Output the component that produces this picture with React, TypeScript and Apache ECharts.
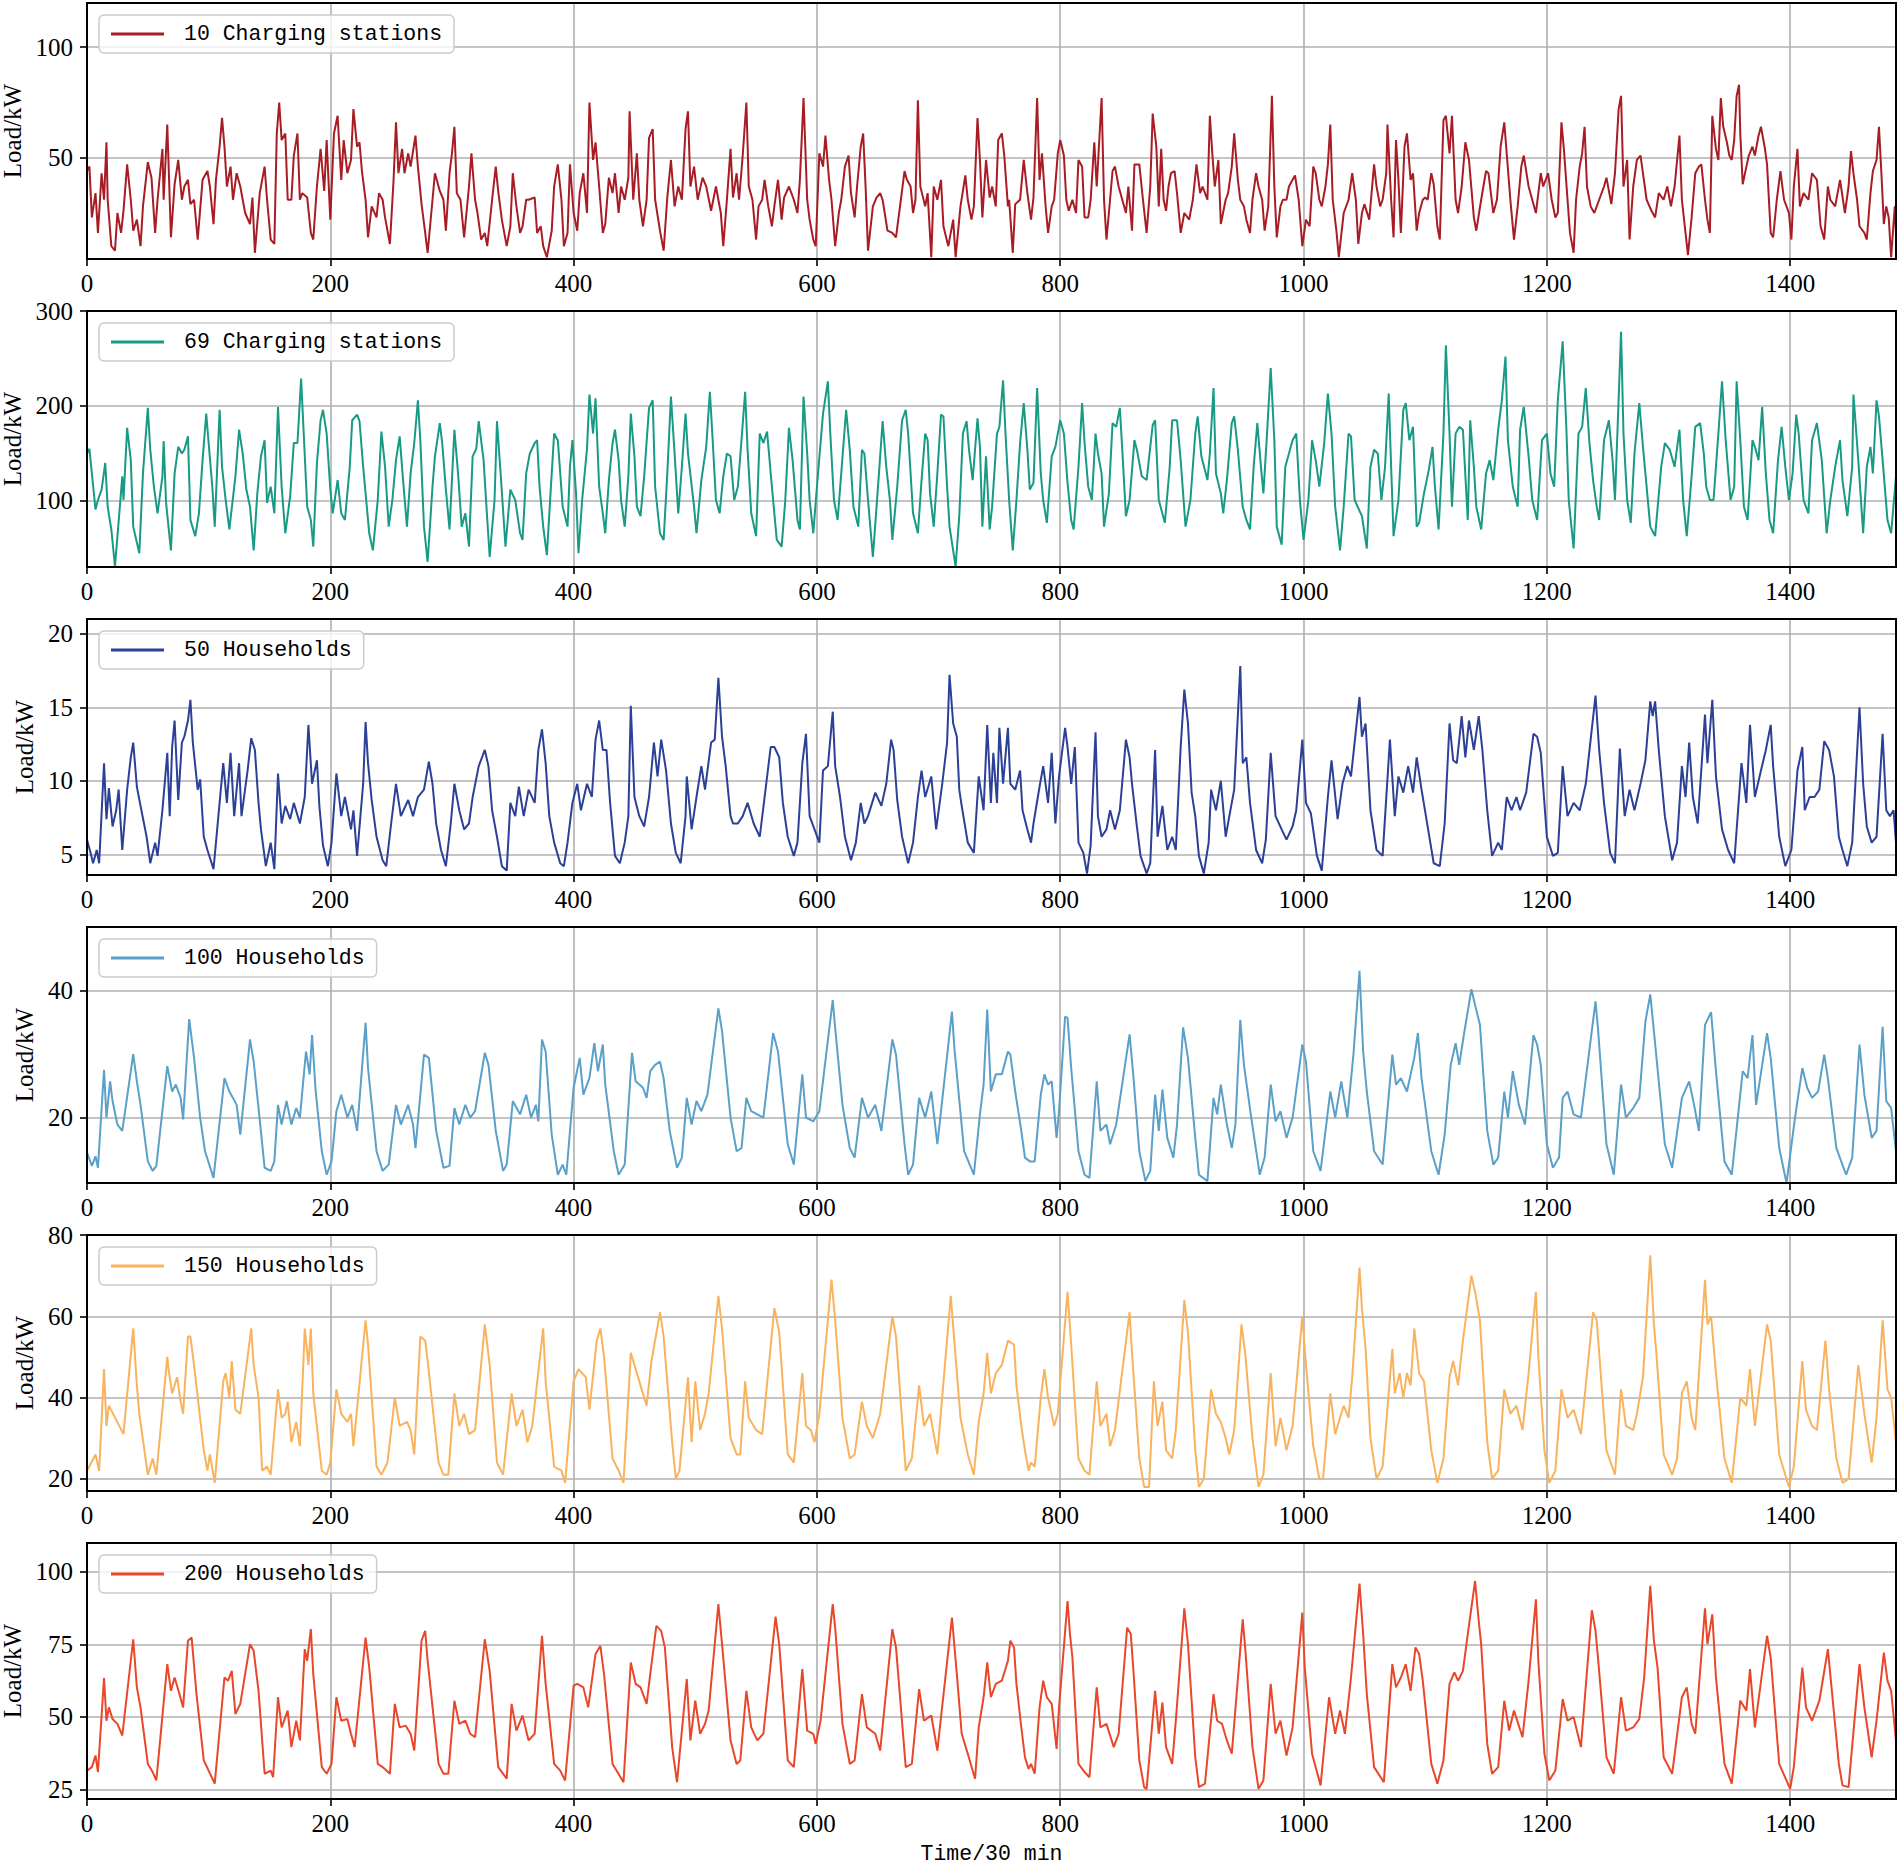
import { useEffect, useRef } from "react";
import * as echarts from "echarts";

const xTicks = [0, 200, 400, 600, 800, 1000, 1200, 1400];
const xMax = 1487;
const seriesNames = ["10 Charging stations", "69 Charging stations", "50 Households", "100 Households", "150 Households", "200 Households"];
const seriesColors = ["#a81c25", "#199a85", "#2b4096", "#5aa0c8", "#f9b35f", "#e8472a"];
const yMins = [4.2, 30.5, 3.6, 9.7, 17, 21.7];
const yMaxs = [120, 300, 21, 50, 80, 110];
const yTicks = [[50, 100], [100, 200, 300], [5, 10, 15, 20], [20, 40], [20, 40, 60, 80], [25, 50, 75, 100]];
const yLabel = "Load/kW";
const xLabel = "Time/30 min";

const cs10: number[][] = [[0,44],[2,46],[4,23],[7,34],[9,16],[12,43],[14,31],[16,57],[17,31],[20,10],[23,8],[25,25],[28,16],[30,26],[33,47],[36,31],[38,17],[41,22],[44,10],[46,28],[50,48],[53,41],[56,16],[58,31],[62,54],[63,31],[66,65],[69,14],[72,38],[75,49],[78,31],[80,37],[83,40],[85,29],[88,31],[91,13],[95,40],[99,44],[101,37],[104,20],[106,40],[109,55],[111,68],[113,55],[115,37],[118,46],[120,31],[123,43],[126,37],[130,25],[134,20],[136,32],[138,7],[142,34],[146,46],[148,31],[151,13],[154,11],[156,61],[158,75],[160,58],[163,61],[165,31],[168,31],[170,51],[173,61],[175,31],[177,34],[181,32],[184,16],[186,13],[189,37],[192,54],[195,35],[197,58],[200,22],[203,61],[206,69],[209,40],[211,58],[214,43],[217,49],[219,72],[222,55],[224,57],[226,44],[229,31],[231,14],[234,28],[238,23],[240,34],[243,31],[245,23],[249,11],[252,40],[254,66],[256,43],[259,54],[261,43],[264,52],[266,46],[270,60],[272,46],[275,29],[278,16],[280,7],[284,31],[286,43],[290,35],[293,31],[295,17],[298,43],[300,52],[302,64],[304,34],[307,31],[310,14],[314,37],[316,52],[319,31],[321,25],[324,13],[327,16],[329,10],[333,31],[336,46],[338,35],[341,22],[345,10],[348,19],[350,43],[353,28],[356,16],[358,19],[361,31],[363,31],[368,32],[370,16],[373,19],[375,10],[378,5],[382,17],[384,37],[387,47],[390,31],[392,10],[395,16],[397,47],[400,25],[403,17],[405,34],[408,43],[411,25],[413,75],[416,49],[418,57],[421,37],[424,16],[426,20],[429,41],[432,34],[434,43],[437,25],[439,37],[442,31],[445,41],[446,71],[449,31],[452,52],[454,31],[457,19],[460,31],[462,59],[465,63],[467,31],[471,17],[474,8],[477,32],[480,49],[483,28],[486,37],[489,31],[492,63],[494,71],[496,37],[499,46],[502,31],[506,41],[509,37],[513,26],[517,37],[521,25],[523,10],[526,31],[529,54],[531,32],[534,43],[536,31],[539,51],[542,75],[544,37],[547,31],[550,13],[552,28],[555,31],[557,40],[560,28],[563,19],[565,28],[568,40],[571,22],[573,32],[577,37],[581,31],[584,25],[586,40],[589,77],[592,31],[594,22],[597,13],[599,10],[602,52],[605,46],[607,60],[610,40],[612,31],[615,10],[618,25],[620,31],[623,46],[626,51],[628,34],[631,23],[633,37],[636,55],[638,61],[640,37],[642,8],[646,28],[649,32],[652,34],[654,31],[658,17],[662,16],[665,14],[669,31],[672,44],[674,40],[677,37],[679,25],[681,31],[683,76],[685,37],[689,28],[691,34],[694,5],[696,37],[699,31],[702,40],[704,19],[708,10],[712,22],[714,5],[718,28],[722,42],[724,31],[727,22],[729,28],[732,68],[734,49],[736,23],[739,49],[742,32],[744,37],[747,28],[749,58],[752,61],[754,51],[757,28],[758,31],[761,7],[763,29],[767,31],[770,49],[773,34],[776,22],[778,32],[781,77],[783,40],[785,52],[788,28],[790,16],[793,28],[795,31],[798,52],[800,58],[803,51],[805,31],[807,26],[810,31],[813,25],[815,49],[818,46],[820,23],[823,23],[825,31],[828,57],[830,37],[834,77],[836,31],[838,13],[840,25],[843,44],[845,46],[848,37],[851,31],[854,25],[856,37],[859,17],[861,47],[865,47],[868,31],[871,16],[874,37],[876,70],[879,55],[881,28],[883,54],[885,31],[887,26],[889,37],[891,43],[894,44],[896,34],[899,16],[902,25],[906,22],[909,31],[912,47],[915,34],[917,37],[921,31],[923,69],[925,52],[927,37],[930,49],[932,20],[936,31],[938,34],[941,46],[943,61],[946,40],[948,31],[951,28],[953,22],[956,16],[958,31],[961,43],[963,37],[966,31],[968,17],[971,28],[974,78],[976,37],[978,14],[981,28],[983,31],[986,31],[988,37],[991,40],[993,42],[996,31],[999,10],[1002,22],[1005,19],[1008,46],[1010,43],[1013,31],[1015,28],[1018,37],[1020,47],[1022,65],[1024,31],[1027,17],[1029,5],[1033,25],[1037,31],[1040,43],[1043,31],[1045,11],[1048,25],[1050,29],[1054,22],[1058,47],[1060,37],[1063,28],[1065,31],[1068,43],[1069,65],[1072,31],[1074,14],[1076,58],[1078,40],[1080,16],[1083,55],[1085,61],[1088,40],[1090,43],[1093,17],[1095,25],[1098,31],[1100,32],[1102,31],[1105,43],[1107,38],[1110,19],[1112,13],[1115,67],[1117,69],[1120,52],[1122,69],[1125,31],[1127,25],[1130,37],[1133,57],[1136,49],[1140,23],[1142,17],[1146,31],[1150,44],[1152,43],[1156,25],[1159,31],[1162,55],[1165,66],[1167,52],[1170,31],[1173,13],[1176,28],[1179,46],[1181,51],[1185,37],[1188,31],[1191,25],[1195,43],[1197,37],[1201,43],[1204,31],[1207,23],[1209,25],[1212,66],[1214,54],[1217,31],[1219,16],[1222,7],[1224,31],[1227,46],[1229,52],[1231,64],[1233,37],[1236,28],[1239,25],[1243,31],[1247,37],[1249,41],[1253,29],[1256,43],[1259,72],[1261,78],[1263,37],[1266,49],[1268,13],[1271,37],[1274,49],[1277,51],[1279,43],[1282,31],[1286,26],[1289,23],[1292,34],[1296,31],[1299,37],[1302,28],[1305,37],[1309,60],[1311,31],[1314,16],[1316,6],[1319,23],[1322,43],[1325,46],[1327,47],[1330,31],[1332,22],[1334,16],[1336,69],[1339,54],[1341,49],[1343,77],[1345,64],[1348,57],[1350,51],[1352,49],[1354,58],[1356,78],[1358,83],[1359,61],[1361,38],[1364,46],[1366,51],[1369,55],[1371,51],[1374,60],[1376,64],[1379,55],[1381,47],[1384,16],[1386,14],[1389,31],[1392,44],[1395,31],[1399,25],[1401,13],[1403,37],[1406,54],[1408,28],[1411,34],[1415,31],[1418,43],[1422,40],[1425,19],[1428,13],[1431,37],[1433,31],[1437,28],[1441,40],[1445,25],[1448,37],[1450,53],[1452,43],[1455,31],[1457,19],[1461,16],[1463,13],[1466,34],[1468,44],[1471,49],[1473,64],[1475,43],[1477,20],[1479,28],[1481,23],[1483,5],[1486,28],[1487,16]];

const cs69: number[][] = [[0,150],[2,155],[4,129],[7,91],[9,101],[12,112],[15,140],[17,94],[20,70],[23,31],[27,94],[29,126],[30,101],[33,177],[36,143],[38,73],[43,45],[46,129],[50,198],[52,154],[55,115],[58,87],[62,126],[63,163],[65,98],[69,48],[72,129],[75,157],[78,150],[80,154],[83,168],[85,80],[89,63],[92,87],[95,143],[98,192],[100,161],[103,115],[105,73],[109,196],[111,136],[114,101],[117,70],[122,126],[125,175],[128,150],[131,112],[134,94],[137,48],[140,108],[143,147],[146,164],[148,98],[151,115],[154,87],[157,199],[160,115],[163,66],[167,105],[170,161],[173,161],[176,229],[178,175],[181,94],[184,80],[186,52],[189,140],[192,185],[194,196],[197,171],[200,112],[202,87],[206,122],[209,87],[212,80],[216,136],[218,185],[222,191],[224,184],[227,136],[230,94],[232,66],[235,48],[239,101],[242,173],[245,136],[248,73],[251,101],[254,143],[257,168],[260,119],[263,73],[266,129],[269,161],[272,206],[274,164],[277,73],[280,36],[284,115],[286,147],[290,182],[292,161],[295,112],[298,70],[302,175],[305,129],[308,73],[311,87],[314,52],[317,147],[320,155],[322,184],[326,143],[328,101],[331,41],[335,101],[337,184],[340,129],[344,52],[348,112],[352,101],[356,66],[358,59],[361,129],[364,150],[368,161],[370,164],[372,115],[375,73],[378,43],[382,129],[384,171],[387,164],[391,94],[395,73],[397,136],[399,164],[402,108],[404,45],[407,101],[411,155],[413,212],[416,171],[418,208],[421,115],[424,87],[426,66],[429,122],[432,161],[434,175],[437,143],[439,101],[442,73],[445,126],[447,192],[450,147],[452,94],[455,84],[458,126],[462,198],[465,206],[467,115],[471,66],[474,59],[477,129],[480,210],[483,150],[486,87],[489,136],[492,192],[494,150],[499,94],[501,66],[505,122],[509,157],[512,215],[514,171],[517,101],[520,87],[523,126],[526,150],[529,147],[532,101],[535,115],[538,164],[541,215],[543,154],[546,87],[550,63],[553,171],[556,161],[559,173],[563,115],[567,59],[571,52],[574,101],[577,177],[580,143],[584,80],[586,70],[589,210],[592,150],[594,101],[597,66],[600,115],[605,192],[609,226],[611,171],[614,101],[617,80],[620,129],[624,196],[627,154],[630,94],[634,73],[637,154],[639,150],[642,101],[646,41],[651,129],[654,184],[657,136],[660,101],[662,59],[666,115],[670,185],[673,196],[675,171],[679,87],[683,66],[686,122],[689,171],[691,164],[693,108],[696,73],[699,129],[702,191],[704,189],[707,115],[709,73],[714,31],[717,84],[720,171],[723,184],[725,154],[728,122],[732,187],[734,157],[736,73],[739,147],[742,70],[744,94],[748,171],[750,178],[753,227],[755,171],[758,101],[761,48],[764,101],[767,161],[770,203],[773,154],[775,112],[778,119],[781,219],[784,129],[786,101],[789,77],[793,147],[796,157],[800,185],[803,171],[806,119],[809,80],[811,70],[815,136],[818,203],[820,161],[823,115],[826,101],[829,171],[831,150],[834,129],[836,73],[840,108],[843,182],[846,178],[849,198],[851,154],[854,84],[857,101],[861,164],[863,154],[867,126],[871,122],[876,180],[878,185],[881,101],[886,77],[890,136],[892,185],[896,185],[899,143],[903,73],[907,101],[911,171],[913,189],[916,147],[921,122],[923,150],[926,219],[928,129],[932,108],[934,87],[937,122],[941,182],[943,189],[946,154],[950,94],[953,80],[956,70],[959,136],[962,182],[965,136],[967,108],[970,171],[973,240],[976,164],[978,73],[982,54],[985,136],[988,150],[991,164],[994,171],[997,101],[1000,59],[1004,101],[1007,164],[1010,143],[1013,115],[1017,161],[1020,213],[1023,171],[1026,94],[1030,48],[1033,94],[1037,171],[1039,168],[1042,101],[1048,84],[1052,50],[1055,136],[1058,154],[1061,150],[1064,101],[1067,136],[1070,213],[1072,136],[1074,63],[1078,101],[1082,196],[1084,203],[1087,164],[1090,178],[1093,73],[1095,77],[1099,108],[1103,133],[1106,157],[1108,115],[1111,70],[1115,171],[1117,264],[1120,171],[1122,94],[1125,171],[1128,178],[1131,175],[1135,80],[1137,185],[1140,136],[1142,94],[1146,70],[1150,129],[1153,143],[1156,122],[1160,175],[1163,206],[1166,252],[1168,164],[1172,115],[1176,94],[1178,175],[1181,199],[1185,147],[1188,101],[1192,80],[1196,164],[1200,171],[1203,129],[1206,115],[1209,206],[1213,268],[1216,178],[1218,101],[1222,50],[1226,171],[1229,178],[1232,219],[1235,161],[1238,122],[1241,94],[1243,80],[1247,164],[1251,185],[1254,143],[1256,101],[1261,278],[1263,171],[1266,101],[1269,77],[1272,150],[1276,203],[1279,157],[1281,129],[1285,73],[1289,63],[1294,136],[1297,161],[1301,154],[1305,136],[1309,175],[1312,101],[1315,63],[1319,126],[1322,178],[1326,182],[1329,150],[1331,115],[1334,101],[1337,101],[1341,171],[1344,226],[1347,164],[1351,101],[1354,115],[1356,226],[1359,164],[1362,94],[1365,80],[1369,164],[1371,157],[1374,143],[1377,199],[1380,129],[1383,80],[1386,66],[1390,143],[1393,178],[1396,136],[1399,101],[1402,129],[1405,191],[1407,171],[1411,101],[1415,87],[1418,164],[1422,182],[1426,143],[1430,66],[1433,101],[1437,136],[1441,164],[1443,122],[1447,84],[1451,136],[1452,212],[1454,178],[1456,143],[1460,66],[1463,136],[1466,157],[1468,129],[1471,206],[1473,189],[1476,143],[1480,80],[1483,66],[1487,126]];

const hh50: number[][] = [[0,6],[3,5.1],[5,4.4],[8,5.3],[10,4.4],[14,11.2],[16,7.4],[18,9.5],[21,6.9],[24,8],[26,9.4],[29,5.3],[33,9.4],[36,11.6],[38,12.6],[41,9.6],[44,8.3],[49,6.2],[52,4.4],[56,5.8],[58,4.9],[62,8],[66,11.9],[68,7.6],[70,12.3],[72,14.1],[75,8.7],[78,12.6],[80,13],[83,14.1],[85,15.5],[87,12.6],[91,9.4],[93,10.1],[96,6.2],[99,5.3],[104,4],[108,7.6],[112,11.2],[115,8.5],[118,11.9],[121,7.6],[125,11.2],[127,7.6],[132,10.7],[135,12.9],[138,12.1],[141,8.5],[143,6.7],[147,4.2],[151,5.8],[154,4],[157,10.5],[160,7.1],[163,8.3],[167,7.4],[170,8.5],[175,7.1],[179,8.9],[182,13.8],[185,9.8],[189,11.4],[191,8.3],[194,5.6],[198,4.2],[201,5.8],[205,10.5],[209,7.6],[212,8.9],[217,6.7],[219,8],[222,4.9],[227,9.8],[229,14],[231,11.2],[234,8.7],[238,6.2],[243,4.6],[246,4.2],[250,7.1],[254,9.8],[258,7.6],[264,8.7],[268,7.6],[272,8.9],[277,9.4],[281,11.3],[284,9.8],[287,7.1],[291,5.3],[295,4.2],[299,7.1],[302,9.8],[306,8],[310,6.7],[314,7.1],[317,8.9],[322,11],[327,12.1],[330,11],[333,8],[337,6.2],[341,4.2],[345,3.9],[348,8.5],[352,7.6],[355,9.6],[359,7.6],[363,9.4],[368,8.5],[371,12.1],[374,13.5],[377,11.2],[380,7.6],[384,5.8],[389,4.4],[392,4.2],[395,5.8],[399,8.5],[403,9.8],[406,8],[411,9.8],[415,8.9],[418,12.8],[421,14.1],[424,12.1],[427,12.1],[430,8.5],[434,4.9],[438,4.4],[442,5.8],[445,7.6],[447,15.1],[450,8.9],[454,7.6],[458,6.9],[462,8.9],[466,12.6],[469,10.3],[472,12.8],[476,10.7],[480,7.1],[484,5.1],[488,4.4],[492,7.6],[493,10.3],[497,6.7],[501,8.9],[505,11],[508,9.4],[513,12.6],[516,12.8],[519,17],[522,13],[525,11],[529,7.6],[531,7.1],[535,7.1],[539,7.6],[543,8.5],[548,7.1],[553,6.2],[557,8.9],[562,12.3],[565,12.3],[569,11.6],[572,8.5],[576,6.2],[581,4.9],[584,5.8],[588,11.2],[591,13.2],[594,7.6],[598,6.7],[602,5.8],[605,10.7],[609,11],[613,14.7],[615,11],[619,8.9],[623,6.2],[628,4.6],[632,5.8],[636,8.5],[639,7.1],[642,7.6],[648,9.2],[653,8.3],[657,9.8],[661,12.8],[663,12.1],[666,8.7],[670,6.2],[675,4.4],[679,5.8],[683,8.9],[686,10.7],[689,8.9],[694,10.3],[698,6.7],[703,9.8],[707,12.6],[709,17.2],[712,13.9],[715,13],[717,9.4],[719,8.3],[724,5.8],[729,5.1],[733,10.3],[737,8],[740,13.8],[743,8.5],[745,11.9],[748,8.5],[750,13.6],[753,9.8],[757,13.6],[759,9.8],[763,9.4],[767,10.7],[769,8],[773,6.7],[776,5.8],[778,7.1],[783,9.6],[786,11],[790,8.5],[793,11.9],[796,7.1],[799,10.3],[804,13.6],[806,12.3],[809,9.8],[812,12.3],[815,5.8],[819,5.1],[822,3.7],[825,5.6],[829,13.3],[831,7.6],[834,6.2],[838,6.7],[841,8],[845,6.7],[849,8],[854,12.8],[857,11.6],[859,9.8],[863,6.9],[866,4.9],[871,3.7],[874,4.4],[878,12.1],[880,6.2],[884,8.3],[888,5.3],[892,6.2],[895,5.3],[899,12.3],[902,16.2],[905,13.9],[908,9.2],[911,7.6],[914,4.9],[918,3.7],[922,5.8],[924,9.4],[928,8],[932,10],[936,6.2],[939,7.6],[943,9.4],[948,17.8],[950,11.2],[953,11.6],[956,8.5],[961,5.3],[966,4.4],[969,6],[973,11.9],[977,7.6],[982,6.7],[986,6],[991,6.9],[994,8],[999,12.8],[1002,8.5],[1006,7.8],[1011,4.9],[1015,3.9],[1020,8.9],[1023,11.4],[1028,7.4],[1032,9.8],[1036,11],[1039,10.3],[1046,15.7],[1048,13],[1051,13.9],[1055,8],[1060,5.3],[1065,4.9],[1071,12.8],[1075,7.6],[1078,10.3],[1082,9.2],[1086,11],[1090,9.2],[1093,11.6],[1097,9.4],[1102,6.9],[1107,4.4],[1112,4.2],[1116,7.1],[1120,13.9],[1123,11.4],[1126,11.2],[1130,14.4],[1133,11.6],[1136,14.1],[1140,12.1],[1144,14.4],[1147,12.1],[1151,8],[1155,4.9],[1160,5.8],[1163,5.3],[1167,8.9],[1171,8],[1175,8.9],[1178,8],[1183,9.2],[1189,13.2],[1192,13],[1195,11.9],[1200,6.2],[1205,4.9],[1209,5.1],[1213,11],[1217,7.6],[1222,8.5],[1227,8],[1232,9.8],[1240,15.8],[1243,12.1],[1247,8.5],[1252,5.1],[1256,4.4],[1260,12.2],[1264,7.6],[1268,9.4],[1272,8],[1277,9.8],[1281,11.4],[1285,15.4],[1287,14.4],[1289,15.4],[1292,12.1],[1297,7.6],[1303,4.6],[1307,5.8],[1311,11],[1314,8.9],[1317,12.6],[1320,8.9],[1324,7.1],[1330,14.5],[1332,11.2],[1336,15.5],[1339,10.3],[1344,6.7],[1349,5.3],[1354,4.4],[1360,11.2],[1364,8.5],[1367,13.8],[1371,8.9],[1376,10.7],[1380,12.1],[1384,13.8],[1386,11],[1391,6.2],[1396,4.2],[1401,5.3],[1406,10.7],[1410,12.3],[1412,8],[1416,8.9],[1420,8.9],[1424,9.4],[1428,12.7],[1432,12.1],[1436,10.3],[1440,6.2],[1443,5.3],[1447,4.2],[1451,5.8],[1457,15],[1460,9.8],[1463,6.9],[1467,5.8],[1471,6.2],[1476,13.2],[1479,8],[1482,7.6],[1485,8],[1487,5.8]];

const hh100: number[][] = [[0,14.5],[4,12.4],[7,13.9],[9,12.1],[14,27.5],[16,20],[19,25.7],[21,22.6],[25,18.9],[29,17.9],[38,30],[41,25.7],[44,22],[50,13.1],[54,11.6],[57,12.4],[66,28.1],[70,24.1],[73,25.2],[77,23.1],[79,19.7],[84,35.5],[88,29.4],[93,20],[97,14.7],[104,10.5],[113,26.2],[117,24.1],[120,23.1],[123,22],[126,17.3],[134,32.3],[137,28.8],[141,21.5],[146,12.1],[151,11.6],[154,13.1],[157,22],[160,18.9],[164,22.6],[168,18.9],[172,21.5],[175,20],[180,30.4],[183,26.8],[185,33],[188,24.1],[193,14.7],[197,11],[201,13.1],[205,21],[209,23.6],[214,20],[218,22],[222,17.9],[229,34.9],[231,27.8],[238,14.7],[243,11.6],[248,12.6],[254,22],[258,18.9],[264,22],[268,18.9],[270,15.2],[277,29.9],[281,29.4],[287,17.9],[293,12.1],[298,12.4],[302,21.5],[306,18.9],[311,22],[315,20],[319,21],[327,30.2],[330,28.3],[336,17.9],[342,11.6],[345,12.6],[350,22.6],[356,20.5],[361,23.6],[365,20],[369,22],[371,19.4],[374,32.3],[377,30.4],[382,17.3],[387,11],[391,12.6],[394,11],[400,24.7],[405,29.4],[408,23.6],[413,26.2],[417,31.7],[420,27.3],[424,31.5],[426,25.2],[433,14.7],[437,11],[442,12.6],[448,30.2],[451,25.7],[457,24.7],[460,23.1],[463,27.3],[467,28.3],[471,28.8],[474,26.2],[479,17.9],[485,12.1],[489,13.7],[493,23.1],[497,18.9],[501,22.6],[505,21],[510,23.6],[519,37.2],[522,33.6],[529,20],[534,14.7],[538,15.2],[542,23.1],[546,21],[551,20.5],[556,20],[564,33.3],[568,30.4],[576,15.8],[581,12.6],[588,26.8],[591,20],[597,19.4],[602,21],[613,38.5],[615,34.1],[621,22],[627,15.2],[631,13.7],[637,23.1],[642,20],[648,22],[653,17.9],[662,32.3],[665,29.9],[672,15.8],[675,11],[679,12.6],[684,23.1],[689,20],[694,24.1],[699,15.8],[711,36.7],[713,30.9],[721,14.7],[729,11],[734,20.5],[737,25.2],[740,37],[743,24.1],[747,26.8],[752,26.8],[757,30.4],[759,29.9],[763,24.1],[768,17.9],[771,13.7],[775,13.1],[779,13.1],[784,23.6],[787,26.8],[790,25.2],[793,25.7],[797,16.8],[799,21],[804,35.9],[806,35.7],[809,27.8],[815,14.7],[820,11],[824,10.5],[830,25.7],[833,17.9],[838,18.9],[841,15.8],[846,18.9],[857,33.1],[860,26.8],[865,14.7],[870,10],[874,11.6],[878,23.6],[881,17.9],[884,24.4],[888,16.8],[893,13.7],[896,18.9],[901,34.2],[905,29.4],[911,16.8],[914,11],[921,10],[926,23.1],[929,20.5],[932,25.2],[937,18.9],[941,15.2],[944,18.9],[948,35.4],[951,28.3],[957,20],[964,11],[968,13.7],[973,25.2],[977,19.4],[981,21],[986,16.8],[991,20],[999,31.5],[1002,28.8],[1008,14.7],[1014,11.6],[1022,24.1],[1026,20],[1031,25.7],[1036,20],[1041,29.9],[1046,43.1],[1049,30.4],[1052,24.1],[1058,14.7],[1065,12.6],[1073,29.9],[1076,25.2],[1080,26.2],[1085,24.1],[1091,29.4],[1094,33.3],[1097,26.2],[1105,14.7],[1111,11],[1116,17.3],[1121,28.3],[1125,31.7],[1128,28.3],[1132,33.3],[1138,40.2],[1141,37.7],[1145,34.6],[1151,17.9],[1156,12.6],[1160,13.7],[1165,24.1],[1168,20],[1172,27.3],[1177,22],[1182,18.9],[1189,33],[1192,31.5],[1195,28.3],[1200,15.8],[1205,12.1],[1210,13.7],[1213,23.1],[1217,24.1],[1222,20.5],[1228,20],[1240,38.3],[1242,34.1],[1249,15.8],[1255,11],[1261,25.2],[1265,20],[1271,21.5],[1276,23.1],[1281,35.1],[1285,39.4],[1288,33.6],[1297,15.8],[1303,12.1],[1311,23.1],[1317,25.7],[1321,22],[1325,17.9],[1330,34.6],[1335,36.6],[1339,27.3],[1346,13.1],[1352,11],[1361,27.3],[1365,26.2],[1369,33],[1372,22],[1381,33.3],[1384,29.4],[1391,15.2],[1397,9.7],[1404,20],[1410,27.8],[1414,24.7],[1418,23.1],[1423,24.1],[1428,29.9],[1431,26.2],[1438,15.2],[1446,11],[1451,13.7],[1457,31.5],[1461,23.6],[1467,16.8],[1471,17.9],[1476,34.3],[1479,22.6],[1483,21.5],[1487,14.7]];

const hh150: number[][] = [[0,22],[7,26],[10,22],[14,47],[16,33],[18,38],[30,31],[38,57],[41,43],[43,36],[50,21],[54,25],[57,21],[66,50],[67,47],[70,41],[74,45],[77,39],[79,36],[83,55],[85,55],[88,48],[96,27],[99,22],[101,26],[105,19],[112,44],[114,46],[117,40],[119,49],[122,37],[126,36],[135,57],[137,48],[141,40],[144,22],[148,23],[151,21],[157,42],[160,35],[163,36],[165,39],[168,29],[172,34],[175,28],[179,57],[182,48],[184,57],[186,41],[193,22],[197,21],[200,24],[205,42],[209,36],[214,34],[217,36],[219,28],[229,59],[231,53],[238,23],[242,21],[247,24],[253,40],[257,33],[263,34],[266,32],[269,26],[274,55],[278,54],[280,49],[289,24],[293,21],[297,21],[302,41],[306,33],[310,36],[314,31],[319,32],[327,58],[331,48],[337,24],[342,21],[349,41],[353,33],[358,37],[362,29],[366,33],[375,57],[377,44],[384,23],[390,22],[393,19],[400,44],[404,47],[410,45],[413,37],[419,54],[422,57],[425,50],[432,25],[437,22],[441,19],[447,51],[450,48],[455,43],[460,38],[464,49],[471,61],[474,55],[481,29],[484,20],[487,22],[494,45],[497,29],[500,44],[504,32],[508,36],[511,41],[519,65],[522,57],[529,30],[534,26],[537,26],[541,44],[544,35],[550,32],[555,31],[565,62],[569,56],[576,26],[581,24],[588,46],[591,33],[595,32],[598,29],[602,36],[612,69],[615,59],[621,35],[627,25],[631,26],[637,39],[641,33],[646,30],[652,36],[662,60],[665,55],[673,22],[678,25],[684,43],[688,33],[693,36],[699,26],[710,65],[714,50],[718,35],[724,26],[729,21],[733,34],[737,41],[740,51],[743,41],[747,46],[752,48],[757,54],[762,53],[764,43],[768,33],[771,27],[774,22],[776,24],[779,23],[784,40],[787,47],[790,40],[795,33],[798,36],[806,66],[809,53],[815,25],[820,22],[824,21],[830,44],[833,33],[838,36],[841,28],[845,32],[857,61],[859,51],[865,25],[869,18],[873,18],[877,44],[880,33],[884,39],[887,27],[892,25],[895,32],[902,64],[905,56],[911,27],[914,18],[918,20],[924,42],[928,36],[932,34],[936,30],[939,26],[943,32],[949,58],[952,51],[958,30],[963,18],[967,21],[973,46],[977,28],[981,35],[986,27],[991,33],[999,60],[1002,48],[1008,28],[1013,20],[1016,20],[1022,41],[1026,31],[1033,38],[1037,35],[1040,45],[1046,72],[1048,62],[1051,52],[1055,30],[1060,20],[1065,23],[1073,52],[1075,41],[1079,46],[1082,40],[1085,46],[1088,43],[1091,57],[1095,46],[1099,44],[1105,27],[1110,19],[1115,25],[1120,45],[1123,49],[1127,43],[1131,54],[1138,70],[1141,66],[1145,59],[1151,29],[1155,20],[1160,22],[1165,42],[1170,36],[1175,38],[1180,32],[1185,46],[1191,66],[1193,50],[1198,27],[1202,19],[1207,22],[1212,42],[1217,35],[1222,37],[1228,31],[1238,61],[1241,59],[1243,51],[1249,27],[1256,21],[1261,42],[1265,33],[1271,32],[1274,36],[1279,45],[1285,75],[1288,58],[1290,51],[1296,26],[1303,21],[1307,25],[1311,41],[1315,44],[1319,35],[1322,32],[1330,69],[1332,58],[1335,60],[1339,46],[1346,25],[1352,19],[1359,40],[1364,38],[1367,47],[1371,33],[1381,58],[1384,54],[1391,26],[1399,18],[1403,23],[1410,49],[1413,37],[1418,33],[1422,32],[1429,54],[1432,42],[1438,25],[1443,19],[1448,20],[1456,48],[1461,36],[1467,24],[1471,35],[1476,59],[1480,42],[1483,40],[1487,29]];

const hh200: number[][] = [[0,31.5],[4,32.7],[7,36.7],[9,31],[14,63.4],[16,48.7],[18,53.3],[21,49.3],[25,47.6],[29,43.6],[38,76.8],[41,60.2],[44,53.3],[50,33.8],[54,31],[57,28.1],[66,68.2],[69,59],[72,63.6],[76,57.9],[79,53.3],[83,76.3],[86,77.4],[90,57.9],[96,35],[100,31.5],[105,27],[113,63.6],[116,62.5],[119,65.9],[122,51],[126,54.5],[134,75.1],[137,72.8],[141,59],[146,30.4],[151,31.5],[153,29.2],[157,56.8],[160,46.4],[165,52.2],[168,39.6],[172,48.7],[175,41.9],[179,73.4],[181,69.4],[184,80.3],[186,64.8],[193,32.7],[197,30.4],[201,33.8],[205,56.8],[209,48.7],[214,49.3],[217,44.2],[220,39.6],[229,77.4],[232,67],[239,33.8],[243,32.7],[249,30.4],[253,54.5],[257,46.4],[262,47],[266,44.2],[269,38.4],[275,76.3],[278,79.7],[280,69.4],[289,33.8],[293,30.4],[297,30.4],[302,55.6],[306,47.6],[311,48.7],[315,44.2],[319,43],[327,76.8],[331,65.9],[338,32.7],[345,28.7],[349,54.5],[353,45.3],[358,50.5],[363,41.9],[368,44.2],[374,78],[377,61.4],[384,33.8],[389,31.5],[393,28.1],[400,60.8],[403,61.4],[408,60.2],[412,53.3],[418,71.7],[422,74.5],[425,64.8],[432,33.8],[436,31],[441,27.5],[447,68.8],[451,61.4],[455,60.2],[460,54.5],[463,64.8],[468,81.4],[472,79.7],[475,74],[481,39.6],[485,27.5],[493,63.1],[496,41.9],[500,55.6],[504,44.2],[508,47.6],[511,52.2],[519,88.9],[522,75.1],[529,41.9],[534,33.8],[537,35],[542,59],[546,46.4],[551,41.9],[556,44.2],[566,84.6],[569,75.1],[576,35],[581,32.7],[588,66.5],[592,45.3],[597,44.2],[599,40.7],[603,48.7],[613,88.9],[615,80.8],[621,47.6],[627,33.8],[631,35],[637,57.9],[641,46.4],[648,44.2],[652,38.4],[662,80.3],[665,74],[673,32.7],[678,33.8],[684,59.6],[688,48.7],[694,50.5],[699,38.4],[711,84.3],[715,64.8],[719,44.2],[724,37.3],[730,28.7],[733,46.4],[737,56.8],[740,68.8],[743,56.8],[747,61.4],[752,62.5],[757,69.4],[759,76.3],[762,74],[764,61.4],[768,46.4],[771,36.1],[774,32.1],[776,33.8],[779,30.4],[783,53.3],[786,62.5],[789,56.8],[793,54.5],[797,39],[799,53.3],[806,90],[808,78.6],[810,70.5],[815,33.8],[820,31],[824,29.2],[830,60.2],[833,46.4],[838,47.6],[844,39.6],[848,44.2],[855,80.8],[858,78.6],[860,67],[865,35],[869,25.8],[871,25.2],[878,59],[881,44.2],[884,55],[887,39.6],[892,33.8],[895,48.7],[902,87.5],[905,75.1],[911,36.1],[914,25.8],[919,27],[926,57.9],[929,48.7],[933,47.6],[937,41.9],[941,37.3],[950,83.7],[952,74],[958,39.6],[963,25.2],[967,28.1],[973,61.4],[977,44.2],[981,48.7],[986,36.7],[991,46.4],[999,86],[1001,67],[1007,37.3],[1014,26.4],[1021,56.8],[1026,44.2],[1030,52.2],[1034,44.2],[1039,63.6],[1046,96],[1049,78.6],[1052,57.9],[1058,32.7],[1066,27.5],[1073,68.2],[1076,60.2],[1080,63.6],[1084,68.2],[1088,59],[1092,74],[1095,71.7],[1098,62.5],[1105,33.8],[1110,27],[1115,35],[1120,61.4],[1124,65.4],[1127,62.5],[1131,65.9],[1135,78.6],[1141,96.9],[1144,83.1],[1146,75.1],[1151,40.7],[1155,30.4],[1160,32.7],[1165,55.6],[1169,45.3],[1173,52.2],[1180,43],[1185,62.5],[1191,90.6],[1193,69.4],[1198,37.3],[1202,28.1],[1207,31.5],[1213,56.2],[1217,48.7],[1222,49.9],[1228,39.6],[1237,86.8],[1240,79.7],[1242,70.5],[1249,36.1],[1255,30.4],[1261,56.8],[1265,45.3],[1271,46.4],[1276,49.3],[1280,63.6],[1285,95.2],[1288,76.3],[1291,67],[1296,36.1],[1303,30.4],[1311,56.8],[1315,60.2],[1319,47.6],[1322,44.2],[1330,87.5],[1332,75.1],[1336,85.4],[1339,63.6],[1346,33.8],[1352,27],[1359,55.6],[1364,52.2],[1367,66.5],[1371,46.4],[1381,78],[1384,70.5],[1391,33.8],[1400,25.2],[1403,32.7],[1410,67],[1413,53.3],[1418,48.7],[1424,55.6],[1431,73.4],[1434,60.2],[1440,33.8],[1443,26.4],[1448,25.8],[1457,68.2],[1461,53.3],[1467,36.1],[1471,48.7],[1477,72.2],[1480,62.5],[1483,59],[1487,41.9]];

const allSeries = [cs10, cs69, hh50, hh100, hh150, hh200];

export default function App() {
  const ref = useRef<HTMLDivElement>(null);
  useEffect(() => {
    if (!ref.current) return;
    const chart = echarts.init(ref.current, undefined, { renderer: "svg" });
    const gridLeft = 87;
    const gridWidth = 1809;
    const gridHeight = 256;
    const gridTops = [3, 311, 619, 927, 1235, 1543];
    const serif = "Liberation Serif";
    const mono = "Liberation Mono";
    const gridLine = { color: "#b0b0b0", width: 1.6 };
    const tickStyle = { color: "#000", width: 1.6 };
    const plain = (v: number) => String(v);

    const option: any = {
      animation: false,
      backgroundColor: "#fff",
      grid: gridTops.map((t) => ({
        left: gridLeft,
        top: t,
        width: gridWidth,
        height: gridHeight,
        show: false,
        containLabel: false,
        outerBoundsMode: "none",
      })),
      xAxis: gridTops.map((_, i) => ({
        type: "value",
        gridIndex: i,
        min: 0,
        max: xMax,
        axisLine: { show: false },
        axisTick: { show: true, inside: false, length: 7, lineStyle: tickStyle, customValues: xTicks },
        axisLabel: { customValues: xTicks, formatter: plain, fontFamily: serif, fontSize: 25, color: "#000", margin: 12 },
        splitLine: { show: true, lineStyle: gridLine },
        ...(i === 5
          ? {
              name: xLabel,
              nameLocation: "middle",
              nameGap: 44,
              nameTextStyle: { fontFamily: mono, fontSize: 21.5, color: "#000" },
            }
          : {}),
      })),
      yAxis: gridTops.map((_, i) => ({
        type: "value",
        gridIndex: i,
        min: yMins[i],
        max: yMaxs[i],
        axisLine: { show: false },
        axisTick: { show: true, inside: false, length: 7, lineStyle: tickStyle, customValues: yTicks[i] },
        axisLabel: { customValues: yTicks[i], formatter: plain, fontFamily: serif, fontSize: 25, color: "#000", margin: 14 },
        splitLine: { show: true, lineStyle: gridLine },
        name: yLabel,
        nameLocation: "middle",
        nameRotate: 90,
        nameGap: String(Math.max(...yTicks[i])).length >= 3 ? 62 : 50,
        nameTextStyle: { fontFamily: serif, fontSize: 25, color: "#000" },
      })),
      legend: gridTops.map((t, i) => ({
        data: [seriesNames[i]],
        left: gridLeft + 12,
        top: t + 12,
        icon: "rect",
        itemWidth: 53,
        itemHeight: 3,
        padding: [8, 12, 8, 12],
        backgroundColor: "rgba(255,255,255,0.8)",
        borderColor: "#cccccc",
        borderWidth: 1.5,
        borderRadius: 5,
        selectedMode: false,
        textStyle: { fontFamily: mono, fontSize: 21.5, color: "#000", padding: [0, 0, 0, 15] },
      })),
      graphic: gridTops.map((t) => ({
        type: "rect",
        shape: { x: gridLeft, y: t, width: gridWidth, height: gridHeight },
        style: { fill: "none", stroke: "#000", lineWidth: 2 },
        z: 100,
        silent: true,
      })),
      series: allSeries.map((d, i) => ({
        type: "line",
        name: seriesNames[i],
        xAxisIndex: i,
        yAxisIndex: i,
        data: d,
        showSymbol: false,
        symbol: "none",
        lineStyle: { color: seriesColors[i], width: 2 },
        itemStyle: { color: seriesColors[i] },
        clip: true,
      })),
    };
    chart.setOption(option);
    return () => chart.dispose();
  }, []);
  return <div ref={ref} style={{ position: "absolute", left: 0, top: 0, width: 1900, height: 1869 }} />;
}
